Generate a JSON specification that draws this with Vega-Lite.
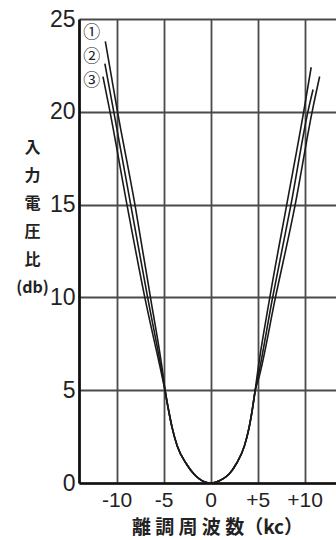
{
  "$schema": "https://vega.github.io/schema/vega-lite/v6.json",
  "width": 257,
  "height": 464,
  "autosize": {"type": "none"},
  "padding": {"left": 79, "top": 19, "right": 0, "bottom": 57},
  "background": "white",
  "config": {"view": {"stroke": null}},
  "datasets": {
    "curves": [
      {"s": "1", "x": -11.2, "y": 23.8}, {"s": "1", "x": -9.9, "y": 20}, {"s": "1", "x": -8.05, "y": 15}, {"s": "1", "x": -6.4, "y": 10}, {"s": "1", "x": -5.0, "y": 5.6},
      {"s": "1", "x": -4.85, "y": 5}, {"s": "1", "x": -4.5, "y": 4}, {"s": "1", "x": -4.1, "y": 3}, {"s": "1", "x": -3.55, "y": 2}, {"s": "1", "x": -2.6, "y": 1.05}, {"s": "1", "x": -1.8, "y": 0.5}, {"s": "1", "x": -1.2, "y": 0.22}, {"s": "1", "x": -0.6, "y": 0.05}, {"s": "1", "x": 0, "y": 0}, {"s": "1", "x": 0.6, "y": 0.05}, {"s": "1", "x": 1.3, "y": 0.22}, {"s": "1", "x": 2.0, "y": 0.5}, {"s": "1", "x": 2.75, "y": 1.05}, {"s": "1", "x": 3.6, "y": 2}, {"s": "1", "x": 4.1, "y": 3}, {"s": "1", "x": 4.45, "y": 4}, {"s": "1", "x": 4.75, "y": 5},
      {"s": "1", "x": 4.9, "y": 5.6}, {"s": "1", "x": 6.3, "y": 10}, {"s": "1", "x": 8.1, "y": 15}, {"s": "1", "x": 9.9, "y": 20}, {"s": "1", "x": 10.7, "y": 22.4},

      {"s": "2", "x": -11.25, "y": 22.6}, {"s": "2", "x": -10.3, "y": 20}, {"s": "2", "x": -8.5, "y": 15}, {"s": "2", "x": -6.7, "y": 10}, {"s": "2", "x": -5.05, "y": 5.6},
      {"s": "2", "x": -4.85, "y": 5}, {"s": "2", "x": -4.5, "y": 4}, {"s": "2", "x": -4.1, "y": 3}, {"s": "2", "x": -3.55, "y": 2}, {"s": "2", "x": -2.6, "y": 1.05}, {"s": "2", "x": -1.8, "y": 0.5}, {"s": "2", "x": -1.2, "y": 0.22}, {"s": "2", "x": -0.6, "y": 0.05}, {"s": "2", "x": 0, "y": 0}, {"s": "2", "x": 0.6, "y": 0.05}, {"s": "2", "x": 1.3, "y": 0.22}, {"s": "2", "x": 2.0, "y": 0.5}, {"s": "2", "x": 2.75, "y": 1.05}, {"s": "2", "x": 3.6, "y": 2}, {"s": "2", "x": 4.1, "y": 3}, {"s": "2", "x": 4.45, "y": 4}, {"s": "2", "x": 4.75, "y": 5},
      {"s": "2", "x": 5.0, "y": 5.6}, {"s": "2", "x": 6.6, "y": 10}, {"s": "2", "x": 8.55, "y": 15}, {"s": "2", "x": 10.35, "y": 20}, {"s": "2", "x": 10.9, "y": 21.2},

      {"s": "3", "x": -11.45, "y": 21.9}, {"s": "3", "x": -10.7, "y": 20}, {"s": "3", "x": -8.9, "y": 15}, {"s": "3", "x": -7.0, "y": 10}, {"s": "3", "x": -5.1, "y": 5.6},
      {"s": "3", "x": -4.85, "y": 5}, {"s": "3", "x": -4.5, "y": 4}, {"s": "3", "x": -4.1, "y": 3}, {"s": "3", "x": -3.55, "y": 2}, {"s": "3", "x": -2.6, "y": 1.05}, {"s": "3", "x": -1.8, "y": 0.5}, {"s": "3", "x": -1.2, "y": 0.22}, {"s": "3", "x": -0.6, "y": 0.05}, {"s": "3", "x": 0, "y": 0}, {"s": "3", "x": 0.6, "y": 0.05}, {"s": "3", "x": 1.3, "y": 0.22}, {"s": "3", "x": 2.0, "y": 0.5}, {"s": "3", "x": 2.75, "y": 1.05}, {"s": "3", "x": 3.6, "y": 2}, {"s": "3", "x": 4.1, "y": 3}, {"s": "3", "x": 4.45, "y": 4}, {"s": "3", "x": 4.75, "y": 5},
      {"s": "3", "x": 5.1, "y": 5.6}, {"s": "3", "x": 6.9, "y": 10}, {"s": "3", "x": 9.0, "y": 15}, {"s": "3", "x": 10.8, "y": 20}, {"s": "3", "x": 11.6, "y": 21.9}
    ],
    "labels": [
      {"x": -12.65, "y": 24.25, "t": "①"},
      {"x": -12.65, "y": 22.95, "t": "②"},
      {"x": -12.65, "y": 21.65, "t": "③"}
    ]
  },
  "layer": [
    {
      "data": {"name": "curves"},
      "mark": {"type": "line", "interpolate": "monotone", "color": "#1a1a1a", "strokeWidth": 1.6},
      "encoding": {
        "x": {
          "field": "x", "type": "quantitative",
          "scale": {"domain": [-14, 13.34], "nice": false, "zero": false},
          "axis": {
            "values": [-10, -5, 0, 5, 10],
            "labelExpr": "datum.value > 0 ? '+' + datum.value : '' + datum.value",
            "labelFont": "Liberation Sans", "labelFontSize": 21, "labelColor": "#222",
            "labelPadding": 6, "labelDx": -4,
            "ticks": false,
            "grid": true, "gridColor": "#4a4a4a", "gridWidth": 1.8, "gridOpacity": 1,
            "domainColor": "#111", "domainWidth": 2.5,
            "title": "離 調 周 波 数（kc）",
            "titleFont": "Noto Sans CJK JP", "titleFontSize": 19, "titleFontWeight": "bold", "titleColor": "#222",
            "titleX": 138, "titleY": 44, "titleAlign": "center", "titleBaseline": "middle", "titleAnchor": null
          }
        },
        "y": {
          "field": "y", "type": "quantitative",
          "scale": {"domain": [0, 25], "nice": false},
          "axis": {
            "values": [0, 5, 10, 15, 20, 25],
            "labelFont": "Liberation Sans", "labelFontSize": 23, "labelColor": "#222",
            "labelPadding": 4, "ticks": false,
            "grid": true, "gridColor": "#4a4a4a", "gridWidth": 1.8, "gridOpacity": 1,
            "domainColor": "#111", "domainWidth": 2.8,
            "title": ["入", "力", "電", "圧", "比", "(db)"],
            "titleFont": "Noto Sans CJK JP", "titleFontSize": 16, "titleFontWeight": "bold", "titleColor": "#222",
            "titleAngle": 0, "titleAlign": "center", "titleBaseline": "middle",
            "titleLineHeight": 28, "titleX": -47, "titleY": 128
          }
        },
        "detail": {"field": "s"}
      }
    },
    {
      "data": {"name": "labels"},
      "mark": {"type": "text", "font": "Noto Sans CJK JP", "fontSize": 17, "color": "#222"},
      "encoding": {
        "x": {"field": "x", "type": "quantitative"},
        "y": {"field": "y", "type": "quantitative"},
        "text": {"field": "t"}
      }
    }
  ]
}
